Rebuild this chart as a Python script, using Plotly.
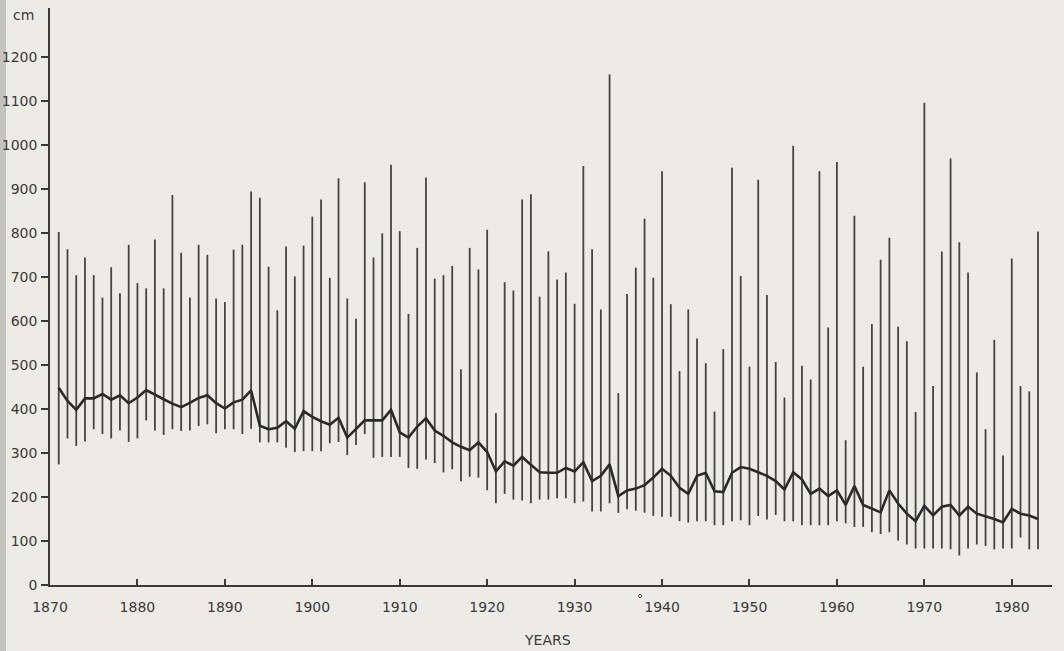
import plotly.graph_objects as go

years = list(range(1871, 1984))

max_vals = [802, 763, 704, 744, 704, 653, 722, 663, 773, 686,
            674, 785, 674, 886, 755, 653, 773, 750, 651, 643,
            762, 773, 894, 880, 723, 624, 769, 701, 771, 837,
            876, 698, 924, 651, 605, 915, 744, 799, 955, 804,
            616, 766, 926, 696, 704, 725, 490, 766, 717, 807,
            391, 688, 669, 876, 888, 655, 758, 694, 710, 639,
            952, 763, 626, 1160, 436, 661, 721, 832, 698, 940,
            638, 486, 626, 560, 504, 394, 536, 948, 702, 496,
            921, 659, 507, 426, 998, 498, 467, 940, 585, 961,
            329, 839, 496, 593, 739, 789, 587, 554, 393, 1096,
            452, 758, 969, 779, 710, 483, 354, 557, 294, 742,
            452, 440, 803]

min_vals = [274, 333, 316, 326, 354, 343, 333, 351, 325, 333,
            374, 351, 341, 354, 350, 351, 361, 365, 345, 354,
            354, 343, 355, 324, 324, 324, 312, 302, 304, 304,
            304, 322, 325, 295, 318, 343, 289, 291, 291, 291,
            266, 264, 285, 277, 256, 263, 236, 246, 244, 215,
            186, 207, 194, 192, 186, 194, 194, 197, 197, 186,
            190, 167, 167, 186, 164, 172, 169, 164, 157, 155,
            155, 145, 142, 145, 145, 136, 136, 145, 147, 136,
            157, 149, 159, 145, 145, 136, 136, 136, 136, 145,
            140, 132, 132, 120, 116, 120, 101, 92, 83, 83,
            83, 83, 81, 67, 83, 92, 89, 81, 83, 83,
            108, 81, 81]

mean_vals = [448, 418, 398, 424, 424, 434, 421, 431, 413, 426,
             443, 432, 422, 412, 404, 414, 425, 431, 413, 401,
             415, 421, 442, 362, 354, 357, 372, 355, 395, 382,
             372, 364, 380, 335, 355, 374, 374, 374, 398, 347,
             335, 360, 379, 351, 339, 324, 314, 306, 324, 302,
             258, 281, 271, 291, 273, 256, 255, 255, 266, 258,
             279, 236, 248, 274, 202, 215, 219, 227, 244, 264,
             248, 221, 207, 248, 255, 213, 211, 255, 268, 264,
             256, 248, 236, 217, 256, 240, 207, 219, 202, 215,
             182, 225, 182, 174, 165, 215, 185, 162, 145, 180,
             158, 178, 182, 158, 178, 162, 156, 150, 142, 173,
             162, 158, 150]

x_ticks = list(range(1870, 1990, 10))
y_ticks = list(range(0, 1300, 100))

ink = "#3a3a3a"
paper = "#ecebe6"

# vertical range lines (min to max for each year)
vx, vy = [], []
for yr, lo, hi in zip(years, min_vals, max_vals):
    vx += [yr, yr, None]
    vy += [lo, hi, None]

fig = go.Figure()
fig.add_trace(go.Scatter(x=vx, y=vy, mode="lines",
                         line=dict(color="#444444", width=1.8),
                         hoverinfo="skip", showlegend=False))
fig.add_trace(go.Scatter(x=years, y=mean_vals, mode="lines",
                         line=dict(color="#2a2a2a", width=2.6),
                         showlegend=False))

font = dict(family="DejaVu Sans", size=14, color=ink)

fig.update_layout(
    width=1064, height=651,
    margin=dict(l=50, r=12, t=8, b=66),
    paper_bgcolor=paper, plot_bgcolor=paper,
    font=font,
    xaxis=dict(range=[1870, 1984.6], tickvals=x_ticks,
               ticktext=[str(v) for v in x_ticks],
               ticks="inside", ticklen=6, tickwidth=1.5, tickcolor=ink,
               showline=True, linecolor=ink, linewidth=1.6, automargin=False,
               showgrid=False, zeroline=False, ticklabelstandoff=8),
    yaxis=dict(range=[0, 1311], tickvals=y_ticks,
               ticktext=[str(v) for v in y_ticks],
               ticks="outside", ticklen=7, tickwidth=1.5, tickcolor=ink,
               showline=True, linecolor=ink, linewidth=1.6, automargin=False,
               showgrid=False, zeroline=False, ticklabelstandoff=1),
    shapes=[dict(type="rect", xref="paper", yref="paper",
                 x0=-50 / 1002, x1=-44 / 1002, y0=-66 / 577, y1=1 + 8 / 577,
                 fillcolor="#c4c4bf", line=dict(width=0), layer="below")],
    annotations=[
        dict(text="cm", xref="paper", yref="paper", x=-0.026, y=0.988,
             showarrow=False, font=font, xanchor="center", yanchor="middle"),
        dict(text="YEARS", xref="paper", yref="paper", x=0.497, y=-0.095,
             showarrow=False, font=font, xanchor="center", yanchor="middle"),
        dict(text="°", x=1937.5, xref="x", yref="paper", y=-0.04,
             showarrow=False, font=dict(family="DejaVu Sans", size=12, color=ink)),
    ],
)

fig.write_html(
    "out.html",
    config={"displayModeBar": False},
    post_script="document.body.style.margin='0';document.body.style.overflow='hidden';",
)
